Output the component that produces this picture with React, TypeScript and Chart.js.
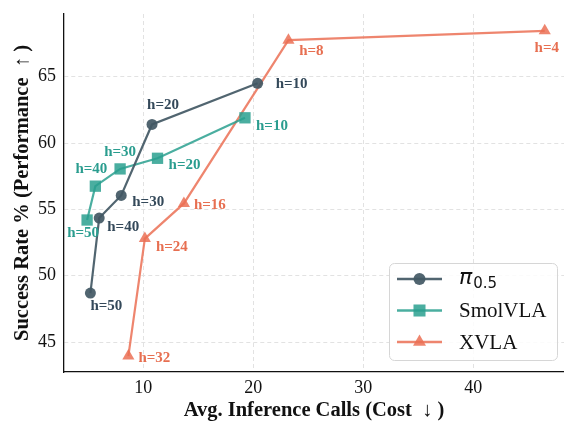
import React, { useEffect, useRef } from 'react';
import { Chart, registerables } from 'chart.js';
Chart.register(...registerables);

const seriesNames = ['π_0.5', 'SmolVLA', 'XVLA'];

const piX = [20.4, 10.8, 8.0, 6.0, 5.2];
const piY = [64.5, 61.4, 56.05, 54.35, 48.7];
const piH = ['h=10', 'h=20', 'h=30', 'h=40', 'h=50'];

const smolX = [19.25, 11.3, 7.9, 5.65, 4.9];
const smolY = [61.9, 58.85, 58.05, 56.75, 54.2];
const smolH = ['h=10', 'h=20', 'h=30', 'h=40', 'h=50'];

const xvlaX = [46.5, 23.2, 13.7, 10.15, 8.65];
const xvlaY = [68.45, 67.75, 55.45, 52.8, 43.95];
const xvlaH = ['h=4', 'h=8', 'h=16', 'h=24', 'h=32'];

const xTicks = [10, 20, 30, 40];
const yTicks = [45, 50, 55, 60, 65];

const xTitle = 'Avg. Inference Calls (Cost  ↓ )';
const yTitle = 'Success Rate % (Performance  ↑ )';

// label offsets in pixels (style only)
const piOff = [[34, 1], [11, -19], [27, 7], [24, 9], [16, 13]];
const smolOff = [[27, 8], [27, 7], [0, -17], [-4, -17], [-4, 13]];
const xvlaOff = [[2, 17], [23, 11], [26, 2], [27, 9], [26, 2]];

const SERIF = '"Liberation Serif", "Times New Roman", serif';

const styles = [
  { line: 'rgba(66,88,100,0.92)', label: '#34495a', shape: 'circle', r: 5.5 },
  { line: 'rgba(42,160,143,0.85)', label: '#2a9d8f', shape: 'rect', r: 8 },
  { line: 'rgba(235,112,85,0.85)', label: '#e76f51', shape: 'triangle', r: 7 },
];

function mk(xs: number[], ys: number[]) {
  return xs.map((x, i) => ({ x, y: ys[i] }));
}

function drawMarker(ctx: CanvasRenderingContext2D, shape: string, x: number, y: number, r: number, color: string) {
  ctx.save();
  ctx.fillStyle = color;
  ctx.beginPath();
  if (shape === 'circle') {
    ctx.arc(x, y, r, 0, Math.PI * 2);
  } else if (shape === 'rect') {
    const s = r * Math.SQRT1_2;
    ctx.rect(x - s, y - s, 2 * s, 2 * s);
  } else {
    ctx.moveTo(x, y - r);
    ctx.lineTo(x + r * Math.sin((2 * Math.PI) / 3), y - r * Math.cos((2 * Math.PI) / 3));
    ctx.lineTo(x + r * Math.sin((4 * Math.PI) / 3), y - r * Math.cos((4 * Math.PI) / 3));
    ctx.closePath();
  }
  ctx.fill();
  ctx.restore();
}

export default function App() {
  const ref = useRef<HTMLCanvasElement>(null);
  useEffect(() => {
    if (!ref.current) return;
    const hLabels = [piH, smolH, xvlaH];
    const offs = [piOff, smolOff, xvlaOff];

    const labelPlugin = {
      id: 'hlabels',
      afterDatasetsDraw(chart: any) {
        const ctx = chart.ctx;
        ctx.save();
        ctx.font = `bold 15px ${SERIF}`;
        ctx.textAlign = 'center';
        ctx.textBaseline = 'middle';
        chart.data.datasets.forEach((ds: any, di: number) => {
          const meta = chart.getDatasetMeta(di);
          meta.data.forEach((pt: any, i: number) => {
            ctx.fillStyle = styles[di].label;
            ctx.fillText(hLabels[di][i], pt.x + offs[di][i][0], pt.y + offs[di][i][1]);
          });
        });
        ctx.restore();
      },
    };

    const legendPlugin = {
      id: 'customLegend',
      afterDraw(chart: any) {
        const ctx = chart.ctx;
        const ca = chart.chartArea;
        const w = 168, h = 97;
        const right = ca.right - 7;
        const bottom = ca.bottom - 12;
        const left = right - w;
        const top = bottom - h;
        ctx.save();
        ctx.fillStyle = 'rgba(255,255,255,0.85)';
        ctx.strokeStyle = '#d6d6d6';
        ctx.lineWidth = 1;
        ctx.beginPath();
        (ctx as any).roundRect(left + 0.5, top + 0.5, w, h, 5);
        ctx.fill();
        ctx.stroke();
        seriesNames.forEach((name, i) => {
          const y = top + 16 + i * 31.5;
          ctx.strokeStyle = styles[i].line;
          ctx.lineWidth = 2.4;
          ctx.beginPath();
          ctx.moveTo(left + 8, y);
          ctx.lineTo(left + 53, y);
          ctx.stroke();
          drawMarker(ctx, styles[i].shape, left + 30.5, y, styles[i].r + 0.5, styles[i].line);
          ctx.fillStyle = '#111';
          ctx.textBaseline = 'middle';
          ctx.textAlign = 'left';
          const tx = left + 70;
          if (name.includes('_')) {
            const [base, sub] = name.split('_');
            ctx.font = `oblique 22px "DejaVu Sans", sans-serif`;
            ctx.fillText(base, tx, y - 1);
            const bw = ctx.measureText(base).width;
            ctx.font = `15px "DejaVu Sans", sans-serif`;
            ctx.fillText(sub, tx + bw + 1, y + 5);
          } else {
            ctx.font = `21px ${SERIF}`;
            ctx.fillText(name, tx, y + 1);
          }
        });
        ctx.restore();
      },
    };

    const chart = new Chart(ref.current, {
      type: 'scatter',
      data: {
        datasets: [
          { label: seriesNames[0], data: mk(piX, piY) },
          { label: seriesNames[1], data: mk(smolX, smolY) },
          { label: seriesNames[2], data: mk(xvlaX, xvlaY) },
        ].map((d, i) => ({
          ...d,
          showLine: true,
          borderColor: styles[i].line,
          backgroundColor: styles[i].line,
          borderWidth: 2.2,
          pointStyle: styles[i].shape as any,
          pointRadius: styles[i].r,
          pointBorderWidth: 0,
          pointBackgroundColor: styles[i].line,
          clip: false as any,
        })),
      },
      options: {
        animation: false,
        responsive: false,
        devicePixelRatio: 1,
        layout: { autoPadding: false, padding: { top: 14, right: 0, left: 0, bottom: 0 } },
        plugins: { legend: { display: false }, tooltip: { enabled: false } },
        scales: {
          x: {
            type: 'linear',
            min: 2.8,
            max: 48.25,
            afterBuildTicks: (s: any) => { s.ticks = xTicks.map((v) => ({ value: v })); },
            afterFit: (s: any) => { s.height = 49; s.paddingRight = 0; s.paddingLeft = 0; },
            ticks: { color: '#111', font: { family: SERIF, size: 18 }, padding: 5 },
            grid: { color: '#e2e2e2', drawTicks: false } as any,
            border: { display: true, color: '#111', width: 1.3, dash: [4, 3] } as any,
            title: { display: true, text: xTitle, color: '#111', font: { family: SERIF, size: 20.5, weight: 'bold', lineHeight: 1.0 }, padding: { top: 0, bottom: 0 } },
          },
          y: {
            type: 'linear',
            min: 42.75,
            max: 69.72,
            afterBuildTicks: (s: any) => { s.ticks = yTicks.map((v) => ({ value: v })); },
            afterFit: (s: any) => { s.width = 64; s.paddingTop = 0; s.paddingBottom = 0; },
            ticks: { color: '#111', font: { family: SERIF, size: 18 }, padding: 8 },
            grid: { color: '#e2e2e2', drawTicks: false } as any,
            border: { display: true, color: '#111', width: 1.3, dash: [4, 3] } as any,
            title: { display: true, text: yTitle, color: '#111', font: { family: SERIF, size: 20.5, weight: 'bold', lineHeight: 1.0 }, padding: { top: 12, bottom: 0 } },
          },
        },
      },
      plugins: [labelPlugin, legendPlugin],
    } as any);
    return () => chart.destroy();
  }, []);
  return (
    <div style={{ position: 'absolute', left: 0, top: 0, width: 564, height: 421, background: '#fff' }}>
      <canvas ref={ref} width={564} height={421} style={{ display: 'block' }} />
    </div>
  );
}
